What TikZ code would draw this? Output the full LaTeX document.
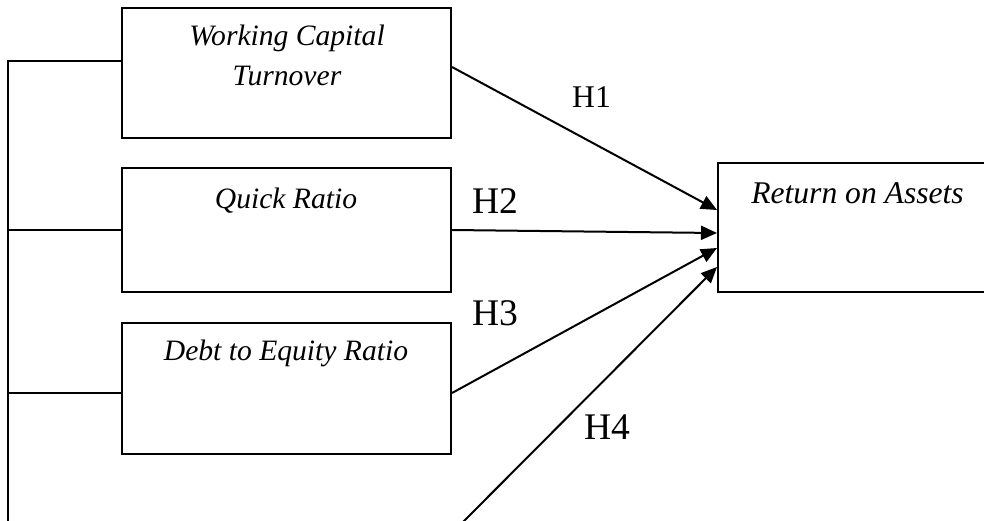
\documentclass[tikz,border=0pt]{standalone}
\usepackage{fontspec}
\setmainfont{Liberation Serif}
\usetikzlibrary{arrows.meta,calc}
\begin{document}
\begin{tikzpicture}[x=0.5pt,y=-0.5pt,
  box/.style={draw,line width=1pt,inner sep=0pt},
  lbl/.style={font=\fontsize{14.8}{18}\selectfont\itshape,anchor=base,inner sep=0pt},
  lblb/.style={font=\fontsize{15.8}{19}\selectfont\itshape,anchor=base,inner sep=0pt},
  hyp/.style={font=\fontsize{18.8}{22}\selectfont,anchor=base,inner sep=0pt},
  hyps/.style={font=\fontsize{15.8}{19}\selectfont,anchor=base,inner sep=0pt},
  link/.style={line width=1pt},
  arr/.style={line width=1pt,-{Triangle[length=8pt,width=7pt]}}]
\useasboundingbox (0,0) rectangle (984,520);
\clip (0,0) rectangle (984,520);
% boxes
\node[box,minimum width=164.5pt,minimum height=65pt] (wct) at (286.5,73) {};
\node[box,minimum width=164.5pt,minimum height=62pt] (qr) at (286.5,230) {};
\node[box,minimum width=164.5pt,minimum height=65.5pt] (der) at (286.5,388.5) {};
\node[box,minimum width=140pt,minimum height=64.5pt] (roa) at (858,227.5) {};
% box texts
\node[lbl] (t1a) at (287,45) {Working Capital};
\node[lbl] (t1b) at (287,85) {Turnover};
\node[lbl] (t2) at (286,208) {Quick Ratio};
\node[lbl] (t3) at (286,360) {Debt to Equity Ratio};
\node[lblb] (t4) at (857.5,203) {Return on Assets};
% hypothesis labels
\node[hyps] (h1) at (591.5,107) {H1};
\node[hyp] (h2) at (495,213) {H2};
\node[hyp] (h3) at (495,325) {H3};
\node[hyp] (h4) at (607,439) {H4};
% left bracket
\coordinate (bot) at (8,524);
\coordinate (h4start) at (461,524);
\draw[link] (bot) |- ([yshift=6pt]wct.west);
\draw[link] (qr.west) -- (qr.west -| bot);
\draw[link] ([yshift=-2.25pt]der.west) -- ([yshift=-2.25pt]der.west -| bot);
% arrows
\draw[arr] ([yshift=3pt]wct.east) -- ([yshift=8.75pt]roa.west);
\draw[arr] (qr.east) -- ([yshift=-2.75pt]roa.west);
\draw[arr] ([yshift=-2.25pt]der.east) -- ([yshift=-10.25pt]roa.west);
\draw[arr] (h4start) -- ([yshift=-19.75pt]roa.west);
\end{tikzpicture}
\end{document}
